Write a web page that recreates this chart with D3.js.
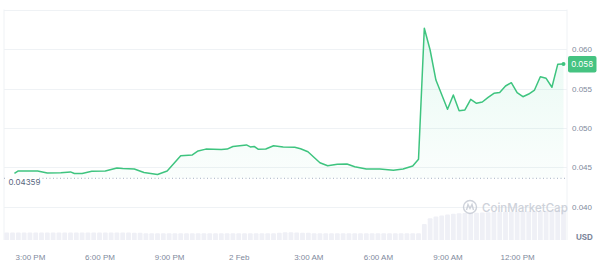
<!DOCTYPE html>
<html>
<head>
<meta charset="utf-8">
<script src="https://cdn.jsdelivr.net/npm/d3@7"></script>
<style>
  body { margin: 0; background: #fff; }
  svg { display: block; font-family: Inter, "DejaVu Sans", sans-serif; }
</style>
</head>
<body>
<svg id="chart" width="600" height="263"></svg>
<script>
// price points (local time, 1-2 Feb)
const priceTimes = [
  "2024-02-01T14:20", "2024-02-01T14:30", "2024-02-01T15:20", "2024-02-01T15:45",
  "2024-02-01T16:20", "2024-02-01T16:45", "2024-02-01T16:55", "2024-02-01T17:15",
  "2024-02-01T17:40", "2024-02-01T18:15", "2024-02-01T18:45", "2024-02-01T19:00",
  "2024-02-01T19:30", "2024-02-01T19:55", "2024-02-01T20:30", "2024-02-01T20:55",
  "2024-02-01T21:30", "2024-02-01T22:00", "2024-02-01T22:15", "2024-02-01T22:35",
  "2024-02-01T23:15", "2024-02-01T23:30", "2024-02-01T23:45", "2024-02-02T00:20",
  "2024-02-02T00:30", "2024-02-02T00:40", "2024-02-02T00:50", "2024-02-02T01:10",
  "2024-02-02T01:30", "2024-02-02T01:55", "2024-02-02T02:25", "2024-02-02T02:40",
  "2024-02-02T02:59", "2024-02-02T03:30", "2024-02-02T03:50", "2024-02-02T04:15",
  "2024-02-02T04:40", "2024-02-02T05:00", "2024-02-02T05:30", "2024-02-02T06:05",
  "2024-02-02T06:40", "2024-02-02T07:05", "2024-02-02T07:30", "2024-02-02T07:45",
  "2024-02-02T08:00", "2024-02-02T08:15", "2024-02-02T08:30", "2024-02-02T09:00",
  "2024-02-02T09:15", "2024-02-02T09:30", "2024-02-02T09:45", "2024-02-02T10:00",
  "2024-02-02T10:15", "2024-02-02T10:30", "2024-02-02T10:45", "2024-02-02T11:00",
  "2024-02-02T11:15", "2024-02-02T11:30", "2024-02-02T11:45", "2024-02-02T12:00",
  "2024-02-02T12:15", "2024-02-02T12:30", "2024-02-02T12:45", "2024-02-02T13:00",
  "2024-02-02T13:15", "2024-02-02T13:30", "2024-02-02T13:45", "2024-02-02T14:00"
];
const priceValues = [
  0.04420, 0.04452, 0.04452, 0.04427, 0.04429, 0.04440, 0.04420, 0.04420,
  0.04448, 0.04452, 0.04490, 0.04484, 0.04478, 0.04433, 0.04408, 0.04452,
  0.04646, 0.04656, 0.04707, 0.04730, 0.04726, 0.04730, 0.04764, 0.04783,
  0.04758, 0.04764, 0.04729, 0.04732, 0.04773, 0.04758, 0.04754, 0.04734,
  0.04697, 0.04557, 0.04519, 0.04537, 0.04541, 0.04506, 0.04477, 0.04477,
  0.04461, 0.04477, 0.04515, 0.04601, 0.06267, 0.05991, 0.05609, 0.05237,
  0.05419, 0.05219, 0.05228, 0.05364, 0.05313, 0.05330, 0.05389, 0.05440,
  0.05450, 0.05533, 0.05575, 0.05448, 0.05397, 0.05431, 0.05482, 0.05651,
  0.05631, 0.05517, 0.05809, 0.05813
];
const basePrice = 0.04359;
const lastLabel = "0.058";

// volume bars, one per 15 min from 14:00 (relative units)
const volumeStart = "2024-02-01T14:00";
const volumeValues = [
  2.2, 2.2, 2.2, 2.2, 2.2, 2.2, 2.2, 2.2, 2.2, 2.2, 2.2, 2.2,
  2.2, 2.2, 2.2, 2.2, 2.2, 2.2, 2.2, 2.2, 2.2, 2.2, 2.1, 2.1,
  2.0, 2.0, 2.0, 2.0, 2.0, 2.0, 2.0, 2.0, 2.0, 2.0, 2.0, 2.0,
  2.0, 2.0, 2.0, 2.0, 2.0, 2.0, 2.0, 2.0, 2.0, 2.0, 2.0, 2.1,
  2.3, 2.3, 2.2, 2.1, 2.1, 2.0, 2.0, 2.0, 2.0, 2.0, 2.0, 2.0,
  2.0, 2.0, 2.0, 2.0, 2.0, 2.0, 2.0, 2.0, 2.0, 2.0, 2.0, 2.0,
  4.7, 6.4, 6.9, 7.2, 7.5, 7.7, 7.85, 7.95, 8.0, 8.05, 8.1, 8.15,
  8.2, 8.25, 8.3, 8.3, 8.35, 8.4, 8.45, 8.5, 8.55, 8.6, 8.7, 8.8, 8.9
];

const yTicks = [0.040, 0.045, 0.050, 0.055, 0.060];
const gridValues = [0.040, 0.045, 0.050, 0.055, 0.060, 0.065];

const green = "#16c784";
const lineGreen = "#3ec47f";
const textGray = "#808a9d";
const gridColor = "#eff2f5";

const parse = d3.timeParse("%Y-%m-%dT%H:%M");
const prices = priceTimes.map((t, i) => ({ date: parse(t), value: priceValues[i] }));
const vStart = parse(volumeStart);
const volumes = volumeValues.map((v, i) => ({ date: d3.timeMinute.offset(vStart, i * 15), value: v }));

const plotLeft = 4, plotRight = 567, plotTop = 9.5, plotBottom = 240;

const x = d3.scaleTime()
  .domain([parse("2024-02-01T13:53"), parse("2024-02-02T14:09")])
  .range([plotLeft, plotRight]);
const y = d3.scaleLinear().domain([0.040, 0.060]).range([206.5, 49.3]);
const yVol = d3.scaleLinear().domain([0, 10]).range([plotBottom, plotBottom - 34]);

const svg = d3.select("#chart");

// frame + grid
svg.append("line")
  .attr("x1", plotLeft).attr("x2", plotLeft).attr("y1", plotTop).attr("y2", plotBottom)
  .attr("stroke", gridColor);
svg.append("line")
  .attr("x1", plotRight).attr("x2", plotRight).attr("y1", plotTop).attr("y2", plotBottom)
  .attr("stroke", gridColor);
svg.append("g")
  .selectAll("line")
  .data(gridValues)
  .join("line")
  .attr("x1", plotLeft).attr("x2", plotRight)
  .attr("y1", d => Math.round(y(d)) + 0.5).attr("y2", d => Math.round(y(d)) + 0.5)
  .attr("stroke", gridColor);

// volume
const barW = x(d3.timeMinute.offset(vStart, 15)) - x(vStart);
svg.append("g")
  .selectAll("path")
  .data(volumes)
  .join("path")
  .attr("fill", "#eff0f6")
  .attr("d", d => {
    const x0 = x(d.date) - barW / 2 + 0.5, w = barW - 1, y0 = yVol(d.value), r = 1;
    return `M${x0},${plotBottom}V${y0 + r}Q${x0},${y0} ${x0 + r},${y0}H${x0 + w - r}Q${x0 + w},${y0} ${x0 + w},${y0 + r}V${plotBottom}Z`;
  });

// watermark
const wm = svg.append("g").attr("opacity", 0.8);
wm.append("circle").attr("cx", 470).attr("cy", 207).attr("r", 6.5)
  .attr("fill", "none").attr("stroke", "#c3c8d2").attr("stroke-width", 1.4);
wm.append("path").attr("d", "M466.5,210 L468,204.5 L470,208.5 L472,204.5 L473.5,210")
  .attr("fill", "none").attr("stroke", "#c3c8d2").attr("stroke-width", 1.4);
wm.append("text").attr("x", 482).attr("y", 211.5)
  .attr("font-size", 11.5).attr("font-weight", 500).attr("fill", "#c3c8d2")
  .text("CoinMarketCap");

// baseline
svg.append("line")
  .attr("x1", plotLeft).attr("x2", plotRight)
  .attr("y1", y(basePrice)).attr("y2", y(basePrice))
  .attr("stroke", "#a6b0c3").attr("stroke-dasharray", "1,2.5");

// area + line
const defs = svg.append("defs");
const grad = defs.append("linearGradient").attr("id", "fillGrad")
  .attr("gradientUnits", "userSpaceOnUse")
  .attr("x1", 0).attr("x2", 0).attr("y1", y(0.063)).attr("y2", y(basePrice));
grad.append("stop").attr("offset", 0).attr("stop-color", green).attr("stop-opacity", 0.1);
grad.append("stop").attr("offset", 1).attr("stop-color", green).attr("stop-opacity", 0.02);

svg.append("path")
  .datum(prices)
  .attr("fill", "url(#fillGrad)")
  .attr("d", d3.area().x(d => x(d.date)).y0(y(basePrice)).y1(d => y(d.value)));

svg.append("path")
  .datum(prices)
  .attr("fill", "none")
  .attr("stroke", lineGreen)
  .attr("stroke-width", 1.5)
  .attr("stroke-linejoin", "round")
  .attr("d", d3.line().x(d => x(d.date)).y(d => y(d.value)));

const last = prices[prices.length - 1];
svg.append("circle")
  .attr("cx", x(last.date)).attr("cy", y(last.value)).attr("r", 2)
  .attr("fill", lineGreen);

// base label
const bl = svg.append("g").attr("transform", `translate(7,${y(basePrice)})`);
bl.append("rect").attr("x", 0).attr("y", -1).attr("width", 32).attr("height", 9).attr("fill", "#fff");
bl.append("text").attr("x", 1.5).attr("y", 4.5).attr("dy", "0.32em")
  .attr("font-size", 8).attr("fill", "#58667e").text(d3.format(".5f")(basePrice));

// y axis
const yAxis = svg.append("g")
  .attr("transform", `translate(${plotRight + 4},0)`)
  .call(d3.axisRight(y).tickValues(yTicks).tickSize(0).tickPadding(1).tickFormat(d3.format(".3f")));
yAxis.select(".domain").remove();
yAxis.selectAll("text").attr("font-size", 8).attr("font-family", null).attr("fill", textGray);

svg.append("text")
  .attr("x", 576).attr("y", 237).attr("dy", "0.32em")
  .attr("font-size", 8).attr("font-weight", 700).attr("fill", "#7a8499")
  .text("USD");

// last price badge
const badge = svg.append("g").attr("transform", `translate(568,${y(last.value)})`);
badge.append("rect").attr("x", 0).attr("y", -8).attr("width", 28.5).attr("height", 16.5)
  .attr("rx", 2).attr("fill", "#45c381");
badge.append("text").attr("x", 14.2).attr("y", 0.3).attr("dy", "0.32em")
  .attr("text-anchor", "middle").attr("font-size", 8).attr("fill", "#fff").text(lastLabel);

// x axis
const fmtDay = d3.timeFormat("%-d %b"), fmtHour = d3.timeFormat("%-I:%M %p");
const xAxis = svg.append("g")
  .attr("transform", `translate(0,251)`)
  .call(d3.axisBottom(x)
    .ticks(d3.timeHour.every(3))
    .tickSize(0)
    .tickFormat(d => d.getHours() === 0 ? fmtDay(d) : fmtHour(d)));
xAxis.select(".domain").remove();
xAxis.selectAll("text").attr("font-size", 8).attr("font-family", null).attr("fill", textGray);
</script>
</body>
</html>
